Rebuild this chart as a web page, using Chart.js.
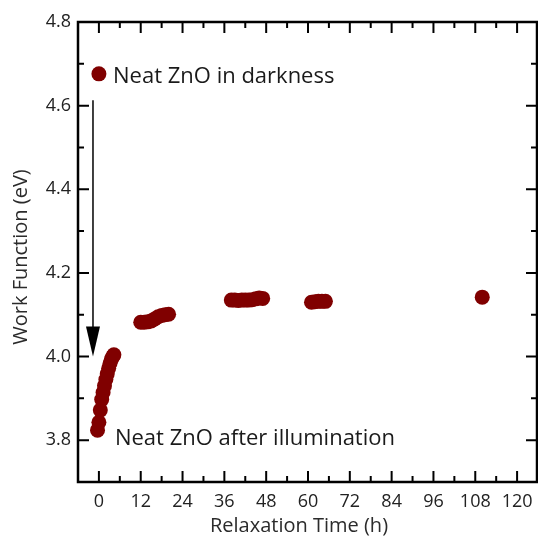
<!DOCTYPE html>
<html>
<head>
<meta charset="utf-8">
<script src="https://cdn.jsdelivr.net/npm/chart.js@4.4.1/dist/chart.umd.min.js"></script>
<style>
  html, body { margin: 0; padding: 0; background: #fff; }
  #wrap { width: 538px; height: 538px; }
</style>
</head>
<body>
<div id="wrap"><canvas id="c" width="538" height="538"></canvas></div>
<script>
// dark state (before light)
const darkTime = [0];
const darkWF = [4.676];

// relaxation after illumination
const relaxTime = [-0.4, 0.0, 0.4, 0.8, 1.2, 1.6, 2.0, 2.4, 2.8, 3.2, 3.6, 4.0, 4.3,
  12, 13, 14, 15, 16, 17, 18, 19, 20,
  38, 39, 40, 41, 42, 43, 44, 45, 46, 47,
  61, 62, 63, 64, 65,
  110];
const relaxWF = [3.824, 3.843, 3.872, 3.897, 3.914, 3.930, 3.945, 3.959, 3.972, 3.984, 3.994, 4.000, 4.004,
  4.082, 4.082, 4.083, 4.085, 4.090, 4.095, 4.098, 4.100, 4.101,
  4.135, 4.135, 4.134, 4.135, 4.135, 4.135, 4.136, 4.138, 4.140, 4.139,
  4.130, 4.131, 4.132, 4.132, 4.132,
  4.142];

const xTicks = [0, 12, 24, 36, 48, 60, 72, 84, 96, 108, 120];
const xMinor = [6, 18, 30, 42, 54, 66, 78, 90, 102, 114];
const yTicks = [3.8, 4.0, 4.2, 4.4, 4.6, 4.8];
const yMinor = [3.7, 3.9, 4.1, 4.3, 4.5, 4.7];

const labelDark = 'Neat ZnO in darkness';
const labelLight = 'Neat ZnO after illumination';

const toPts = (xs, ys) => xs.map((x, i) => ({ x: x, y: ys[i] }));

// frame, inward ticks on all sides, arrow and the two notes
const decor = {
  id: 'decor',
  afterDatasetsDraw(chart) {
    const { ctx, chartArea: a, scales: { x, y } } = chart;
    const right = Math.min(a.right, 537);
    ctx.save();
    ctx.strokeStyle = '#000';
    ctx.lineWidth = 2.5;
    ctx.strokeRect(a.left, a.top, right - a.left, a.bottom - a.top);

    ctx.lineWidth = 2;
    const tick = (vals, len) => {
      vals.forEach(v => {
        const px = x.getPixelForValue(v);
        ctx.beginPath();
        ctx.moveTo(px, a.bottom); ctx.lineTo(px, a.bottom - len);
        ctx.moveTo(px, a.top); ctx.lineTo(px, a.top + len);
        ctx.stroke();
      });
    };
    const ytick = (vals, len) => {
      vals.forEach(v => {
        const py = y.getPixelForValue(v);
        ctx.beginPath();
        ctx.moveTo(a.left, py); ctx.lineTo(a.left + len, py);
        ctx.moveTo(right, py); ctx.lineTo(right - len, py);
        ctx.stroke();
      });
    };
    tick(xTicks, 11); tick(xMinor, 6);
    ytick(yTicks, 11); ytick(yMinor, 6);

    // arrow
    const ax = x.getPixelForValue(-1.7);
    const y0 = y.getPixelForValue(4.613);
    const y1 = y.getPixelForValue(4.0);
    ctx.lineWidth = 1.5;
    ctx.beginPath();
    ctx.moveTo(ax, y0); ctx.lineTo(ax, y1 - 28);
    ctx.stroke();
    ctx.fillStyle = '#000';
    ctx.beginPath();
    ctx.moveTo(ax - 7, y1 - 30);
    ctx.lineTo(ax + 7, y1 - 30);
    ctx.lineTo(ax, y1);
    ctx.closePath();
    ctx.fill();

    // notes
    ctx.fillStyle = '#1a1a1a';
    ctx.font = '22px "Open Sans"';
    ctx.textBaseline = 'alphabetic';
    ctx.textAlign = 'left';
    ctx.fillText(labelDark, x.getPixelForValue(4.05), y.getPixelForValue(4.654));
    ctx.fillText(labelLight, x.getPixelForValue(4.6), y.getPixelForValue(3.788));

    // axis titles
    ctx.font = '20px "Open Sans"';
    ctx.fillStyle = '#2b2b2b';
    ctx.textAlign = 'center';
    ctx.textBaseline = 'middle';
    ctx.fillText('Relaxation Time (h)', 299, 526);
    ctx.translate(21, 257);
    ctx.rotate(-Math.PI / 2);
    ctx.fillText('Work Function (eV)', 0, 0);
    ctx.restore();
  }
};

new Chart(document.getElementById('c'), {
  type: 'scatter',
  data: {
    datasets: [
      {
        data: toPts(relaxTime, relaxWF),
        backgroundColor: '#800000',
        borderColor: '#800000',
        borderWidth: 0,
        pointRadius: 7.5
      },
      {
        data: toPts(darkTime, darkWF),
        backgroundColor: '#800000',
        borderColor: '#800000',
        borderWidth: 0,
        pointRadius: 7.5
      }
    ]
  },
  options: {
    responsive: false,
    animation: false,
    layout: { autoPadding: false, padding: { top: 22, right: 0, left: 0, bottom: 0 } },
    plugins: { legend: { display: false }, tooltip: { enabled: false } },
    scales: {
      x: {
        type: 'linear',
        min: -6,
        max: 126,
        afterBuildTicks: s => { s.ticks = xTicks.map(v => ({ value: v })); },
        afterFit: s => { s.height = 56; s.paddingLeft = 0; s.paddingRight = 0; },
        grid: { display: false, drawTicks: false },
        border: { display: false },
        ticks: { padding: 9, color: '#222', font: { family: 'Open Sans', size: 18 }, maxRotation: 0, autoSkip: false }
      },
      y: {
        type: 'linear',
        min: 3.7,
        max: 4.8,
        afterBuildTicks: s => { s.ticks = yTicks.map(v => ({ value: v })); },
        afterFit: s => { s.width = 78; s.paddingTop = 0; s.paddingBottom = 0; },
        grid: { display: false, drawTicks: false },
        border: { display: false },
        ticks: { padding: 7, color: '#222', font: { family: 'Open Sans', size: 18 }, callback: v => v.toFixed(1) }
      }
    }
  },
  plugins: [decor]
});
</script>
</body>
</html>
